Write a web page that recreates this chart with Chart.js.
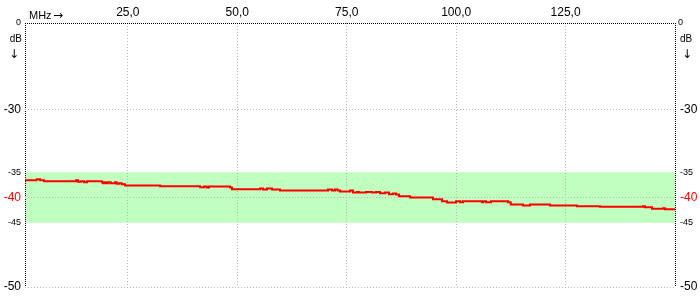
<!DOCTYPE html>
<html>
<head>
<meta charset="utf-8">
<script src="https://cdn.jsdelivr.net/npm/chart.js@4/dist/chart.umd.min.js"></script>
<style>
  html, body { margin: 0; padding: 0; background: #fff; }
  #wrap { width: 700px; height: 300px; }
</style>
</head>
<body>
<div id="wrap"><canvas id="myChart" width="700" height="300"></canvas></div>
<script>
// frequency (MHz) where each step starts, and level (dB) of that step
var freqMHz = [1.5, 4.17, 4.93, 5.84, 13.15, 13.61, 14.23, 14.98, 15.66, 19.09, 19.32, 19.78, 20.17, 20.53, 21.08, 22.06, 22.45, 22.98, 23.59, 24.35,
  32.34, 41.48, 42.40, 43.01, 43.54, 48.34, 48.79, 55.19, 55.88, 56.79, 57.93, 59.76, 70.73, 71.64, 72.33, 72.94, 73.47, 75.75, 76.44, 77.35,
  77.81, 79.41, 80.78, 81.69, 82.61, 83.75, 84.66, 85.58, 86.26, 86.95, 89.46, 94.71, 96.77, 97.91, 99.97, 100.88, 101.57, 105.91, 106.21, 106.82,
  107.97, 111.85, 112.47, 115.28, 116.88, 121.45, 127.61, 132.87, 142.69, 143.15, 144.75, 147.26, 147.72, 148.41, 150];
var levelDb = [-36.38, -36.58, -36.38, -36.58, -36.78, -36.58, -36.91, -36.78, -36.97, -36.78, -36.97, -37.17, -36.97, -37.17, -36.97, -37.17, -36.97, -37.31, -37.17, -37.37,
  -37.62, -37.76, -37.96, -37.82, -38.02, -37.82, -38.02, -38.35, -38.21, -38.41, -38.21, -38.41, -38.61, -38.41, -38.61, -38.41, -38.61, -38.81, -38.61, -39.00,
  -38.89, -39.00, -38.89, -39.00, -38.89, -39.14, -39.00, -39.34, -39.20, -39.40, -39.73, -39.99, -40.33, -40.72, -40.98, -40.72, -40.92, -40.72, -40.92, -40.72,
  -40.92, -40.72, -40.92, -41.37, -41.57, -41.37, -41.57, -41.71, -41.84, -41.71, -41.90, -42.24, -42.10, -42.30, -42.30];

var xMin = 1.5, xMax = 150;
var xTicks = [25, 50, 75, 100, 125];
var yTicks = [0, -30, -35, -40, -45, -50];
var bandTop = -35, bandBottom = -45;

// the dB axis is not linear: the -35..-45 window is stretched
var yKnots = [-50, -45, -40, -35, -30, 0];
var yKnotPos = [0, 0.243, 0.339, 0.435, 0.673, 1];

class PiecewiseScale extends Chart.LinearScale {
  getPixelForValue(value) {
    if (value === null || value === undefined || isNaN(value)) return NaN;
    var d;
    if (value <= yKnots[0]) d = 0;
    else if (value >= yKnots[yKnots.length - 1]) d = 1;
    else {
      for (var i = 0; i < yKnots.length - 1; i++) {
        if (value >= yKnots[i] && value <= yKnots[i + 1]) {
          var t = (value - yKnots[i]) / (yKnots[i + 1] - yKnots[i]);
          d = yKnotPos[i] + t * (yKnotPos[i + 1] - yKnotPos[i]);
          break;
        }
      }
    }
    return this.getPixelForDecimal(d);
  }
  getValueForPixel(pixel) {
    var d = this.getDecimalForPixel(pixel);
    for (var i = 0; i < yKnots.length - 1; i++) {
      if (d >= yKnotPos[i] && d <= yKnotPos[i + 1]) {
        var t = (d - yKnotPos[i]) / (yKnotPos[i + 1] - yKnotPos[i]);
        return yKnots[i] + t * (yKnots[i + 1] - yKnots[i]);
      }
    }
    return d < 0 ? yKnots[0] : yKnots[yKnots.length - 1];
  }
}
PiecewiseScale.id = 'piecewise';
PiecewiseScale.defaults = Chart.LinearScale.defaults;
Chart.register(PiecewiseScale);

var points = freqMHz.map(function (f, i) { return { x: f, y: levelDb[i] }; });

function yFont(c) {
  var v = c.tick ? c.tick.value : 0;
  var small = v === 0 || v === -35 || v === -45;
  return { family: 'Liberation Sans', size: small ? 9 : 12 };
}
function yColor(c) {
  return c.tick && c.tick.value === -40 ? '#ff0000' : '#000000';
}
function yLabel(v) {
  // the 0 at the top is drawn together with the "dB" unit
  return v === 0 ? '' : String(v);
}
function setYTicks(scale) {
  scale.ticks = yTicks.map(function (v) { return { value: v }; });
}

var bandPlugin = {
  id: 'band',
  beforeDraw: function (ch) {
    var a = ch.chartArea, y = ch.scales.y, ctx = ch.ctx;
    var t = y.getPixelForValue(bandTop), b = y.getPixelForValue(bandBottom);
    ctx.save();
    ctx.fillStyle = '#c0ffc0';
    ctx.fillRect(a.left, t, a.right - a.left, b - t);
    ctx.restore();
  }
};

var labelPlugin = {
  id: 'unitLabels',
  afterDraw: function (ch) {
    var a = ch.chartArea, ctx = ch.ctx;
    var top = ch.scales.y.getPixelForValue(yTicks[0]);
    ctx.save();
    ctx.fillStyle = '#000';
    ctx.textBaseline = 'alphabetic';
    ctx.font = '11px "Liberation Sans"';
    ctx.textAlign = 'left';
    ctx.fillText('MHz', a.left + 4, top - 4);
    ctx.font = '12px "DejaVu Sans"';
    ctx.fillText('\u2192', a.left + 28, top - 4);
    // 0 / dB / arrow at both sides
    ctx.font = '9px "Liberation Sans"';
    ctx.textAlign = 'right';
    ctx.fillText('0', a.left - 4, top + 2);
    ctx.textAlign = 'left';
    ctx.fillText('0', a.right + 3, top + 2);
    ctx.font = '10px "Liberation Sans"';
    ctx.textAlign = 'right';
    ctx.fillText('dB', a.left - 3, top + 19);
    ctx.textAlign = 'left';
    ctx.fillText('dB', a.right + 5, top + 19);
    ctx.font = '12px "DejaVu Sans"';
    ctx.textAlign = 'center';
    ctx.fillText('\u2193', a.left - 11, top + 35);
    ctx.fillText('\u2193', a.right + 12, top + 35);
    ctx.restore();
  }
};

new Chart(document.getElementById('myChart'), {
  type: 'line',
  data: {
    datasets: [{
      data: points,
      stepped: 'after',
      borderColor: '#ff0000',
      borderWidth: 2,
      pointRadius: 0,
      fill: false
    }]
  },
  options: {
    responsive: false,
    animation: false,
    events: [],
    layout: { padding: { left: 0, right: 0, top: 0, bottom: 13 } },
    plugins: { legend: { display: false }, tooltip: { enabled: false } },
    scales: {
      x: {
        type: 'linear',
        position: 'top',
        min: xMin,
        max: xMax,
        afterBuildTicks: function (scale) {
          scale.ticks = [xMin].concat(xTicks, [xMax]).map(function (v) { return { value: v }; });
        },
        afterFit: function (scale) { scale.height = 23; },
        ticks: {
          autoSkip: false,
          maxRotation: 0,
          padding: 3,
          color: '#000',
          font: { family: 'Liberation Sans', size: 12 },
          callback: function (v) {
            return xTicks.indexOf(v) >= 0 ? v.toFixed(1).replace('.', ',') : '';
          }
        },
        grid: {
          drawTicks: false,
          lineWidth: 1,
          color: function (c) {
            var v = c.tick ? c.tick.value : 0;
            return (v === xMin || v === xMax) ? '#000000' : '#b8b8b8';
          }
        },
        border: {
          display: false,
          dash: function (c) {
            var v = c.tick ? c.tick.value : 0;
            return (v === xMin || v === xMax) ? [1, 1] : [1, 2];
          }
        }
      },
      y: {
        type: 'piecewise',
        position: 'left',
        min: -50,
        max: 0,
        afterBuildTicks: setYTicks,
        afterFit: function (scale) { scale.width = 25; },
        ticks: { autoSkip: false, padding: 4, font: yFont, color: yColor, callback: yLabel },
        grid: {
          drawTicks: false,
          lineWidth: 1,
          color: function (c) {
            var v = c.tick ? c.tick.value : 0;
            if (v === 0) return '#000000';
            if (v === -35 || v === -45) return 'rgba(0,0,0,0)';
            return '#b8b8b8';
          }
        },
        border: {
          display: false,
          dash: function (c) {
            return c.tick && c.tick.value === 0 ? [1, 1] : [1, 2];
          }
        }
      },
      y2: {
        type: 'piecewise',
        position: 'right',
        min: -50,
        max: 0,
        afterBuildTicks: setYTicks,
        afterFit: function (scale) { scale.width = 25; },
        ticks: { autoSkip: false, padding: 5, font: yFont, color: yColor, callback: yLabel },
        grid: { display: false, drawTicks: false },
        border: { display: false }
      }
    }
  },
  plugins: [bandPlugin, labelPlugin]
});
</script>
</body>
</html>
